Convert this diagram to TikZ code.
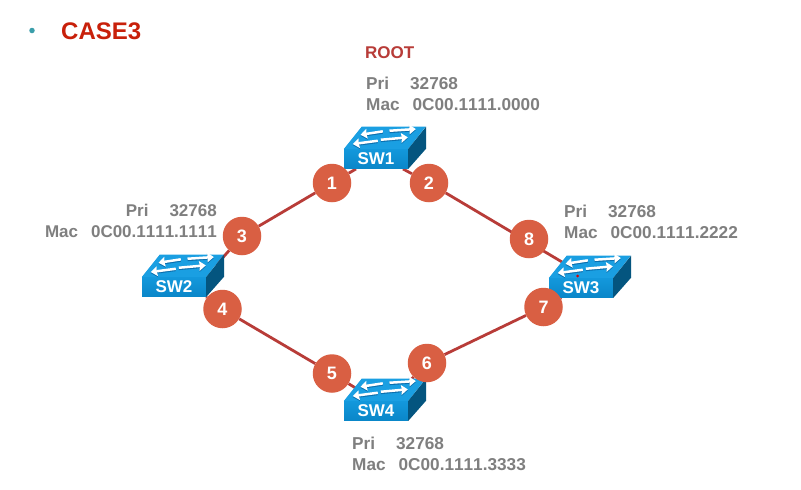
\documentclass[tikz,border=0pt]{standalone}
\usepackage{fontspec}
\setmainfont[Kerning=Off]{Liberation Sans}
\usetikzlibrary{backgrounds,arrows.meta}
\definecolor{linkred}{HTML}{B83C38}
\definecolor{portfill}{HTML}{D95F43}
\definecolor{infogray}{HTML}{7F7F7F}
\definecolor{headred}{HTML}{C8200A}
\definecolor{bulletteal}{HTML}{3A9EAA}
\definecolor{swtop}{HTML}{1A9FE2}
\definecolor{swfronta}{HTML}{1398DC}
\definecolor{swfrontb}{HTML}{0A86C8}
\definecolor{swside}{HTML}{04557F}
\definecolor{swshade}{HTML}{0B6FAE}
\tikzset{
  x=1pt, y=-1pt,
  swfront/.style={rectangle, minimum width=64pt, minimum height=19.5pt, inner sep=0pt,
    top color=swfronta, bottom color=swfrontb, text=white,
    font=\fontsize{17}{18}\selectfont\bfseries},
  port/.style={circle, minimum size=38.5pt, inner sep=0pt, fill=portfill, text=white,
    font=\fontsize{18}{19}\selectfont\bfseries},
  info/.style={inner sep=0pt, text=infogray, align=left,
    font=\fontsize{17.2}{21}\selectfont\bfseries},
  link/.style={draw=linkred, line width=2.8pt},
  swarrow/.style={line width=2.5pt, -{Stealth[inset=0.5pt,length=6.5pt,width=9.5pt]}},
}
\newcommand{\pri}{Pri\hspace{21pt}32768}
\newcommand{\mac}[1]{Mac\hspace{13pt}0C00.1111.#1}
\begin{document}
\begin{tikzpicture}
\useasboundingbox (0,0) rectangle (801,490);

% Heading
\node[circle, fill=bulletteal, minimum size=5.5pt, inner sep=0pt] (bullet) at (32,30.5) {};
\node[anchor=west, inner sep=0pt, text=headred, font=\fontsize{24}{26}\selectfont\bfseries] (title) at (61,31) {CASE3};
\node[anchor=west, inner sep=0pt, text=linkred, font=\fontsize{17}{19}\selectfont\bfseries] (root) at (365,53) {ROOT};

% Switches: the front face is the node, the top and side are added below
\node[swfront] (sw1) at (376,159) {SW1};
\node[swfront] (sw2) at (174,287) {SW2};
\node[swfront] (sw3) at (581,288) {SW3};
\node[swfront] (sw4) at (376,411) {SW4};

\foreach \s in {sw1,sw2,sw3,sw4} {
  \fill[swtop] (\s.north west) -- ++(18,-22.5) -- ++(64,0) -- (\s.north east) -- cycle;
  \fill[swside] (\s.north east) -- ++(18,-22.5) -- ++(0,22) -- (\s.south east) -- cycle;
  \begin{scope}[shift={(\s.north west)}]
    % each arrow has a darker copy just below it
    \foreach \c/\dy in {swshade/1.1,white/0} {
      \begin{scope}[yshift=-\dy pt]
        \draw[swarrow,\c] (39,-17.7) -- (16.7,-14.3);
        \draw[swarrow,\c] (45.7,-18.3) -- (72,-20);
        \draw[swarrow,\c] (34,-8.3) -- (9,-5);
        \draw[swarrow,\c] (37,-9.3) -- (64,-11.7);
      \end{scope}
    }
  \end{scope}
}
\fill[red!85!black] (577.5,276) circle (1.5);

% Port markers
\node[port] (n1) at (332,183) {1};
\node[port] (n2) at (429,183) {2};
\node[port] (n3) at (242,236) {3};
\node[port] (n4) at (222.5,309) {4};
\node[port] (n5) at (332,373.5) {5};
\node[port] (n6) at (427,363) {6};
\node[port] (n7) at (543.5,307) {7};
\node[port] (n8) at (529,239) {8};

% Attachment points of the links on each switch
\coordinate (sw1l) at ([xshift=-20pt]sw1.south);
\coordinate (sw1r) at ([xshift=27pt]sw1.south);
\coordinate (sw2t) at ([xshift=10pt,yshift=12pt]sw2.north east);
\coordinate (sw3t) at ([xshift=15pt,yshift=15pt]sw3.north west);
\coordinate (sw4l) at ([xshift=20pt,yshift=8pt]sw4.north west);
\coordinate (sw4r) at ([xshift=-10pt,yshift=8pt]sw4.north east);

% Links run behind switches and markers
\begin{scope}[on background layer]
  \fill[white] (0,0) rectangle (801,490);
  \draw[link] (sw1l) -- (n1) -- (n3) -- (sw2t);
  \draw[link] (sw2.south east) -- (n4) -- (n5) -- (sw4l);
  \draw[link] (sw4r) -- (n6) -- (n7) -- (sw3);
  \draw[link] (sw1r) -- (n2) -- (sw3t);
\end{scope}

% Bridge priority and MAC address
\node[info, anchor=west] (info1) at (366,93.5) {\pri\\\mac{0000}};
\node[info, anchor=east, align=right, font=\fontsize{17}{21}\selectfont\bfseries] (info2) at (217,221) {\pri\\\mac{1111}};
\node[info, anchor=west] (info3) at (564,221.5) {\pri\\\mac{2222}};
\node[info, anchor=west] (info4) at (352,454) {\pri\\\mac{3333}};
\end{tikzpicture}
\end{document}
